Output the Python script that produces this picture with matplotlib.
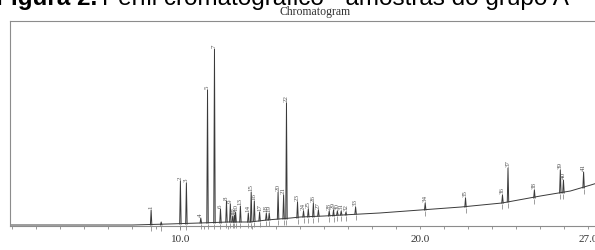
"""Chromatogram, group A samples (scanned figure redrawn)."""

import matplotlib.pyplot as plt
from matplotlib.ticker import MultipleLocator

# baseline of the trace (retention time in min, signal in arbitrary units)
baseline_t = [2.9, 8.0, 9.5, 10.8, 12.0, 12.9, 13.6, 14.6, 15.0, 16.0, 16.75,
              18.3, 20.0, 21.7, 23.4, 25.0, 26.25, 27.1, 27.5]
baseline_y = [1, 1, 2, 3, 4, 4, 6, 8, 9, 10, 11, 13, 16, 19, 23, 30, 35, 41, 44]

# peaks: label, retention time, signal at the foot, signal at the apex
peak_label = ["1", "", "2", "3", "4", "5", "7", "6", "8", "9", "11", "12", "10",
              "13", "14", "15", "16", "17", "18", "19", "20", "21", "22", "23",
              "24", "25", "26", "27", "28", "29", "30", "31", "32", "33", "34",
              "35", "36", "37", "38", "39", "40", "41"]
peak_rt = [8.78, 9.2, 10.0, 10.25, 10.85, 11.13, 11.42, 11.67, 11.92, 12.08,
           12.18, 12.25, 12.3, 12.5, 12.83, 12.95, 13.08, 13.3, 13.58, 13.7,
           14.07, 14.3, 14.42, 14.88, 15.13, 15.33, 15.54, 15.75, 16.2, 16.38,
           16.54, 16.7, 16.9, 17.3, 20.2, 21.88, 23.42, 23.65, 24.75, 25.83,
           25.96, 26.8]
peak_base = [1, 1, 2, 2, 3, 3, 3, 3, 4, 4, 4, 4, 4, 4, 4, 4, 5, 5, 6, 6, 7, 7,
             7, 8, 9, 9, 9, 10, 10, 10, 11, 11, 11, 12, 16, 19, 23, 24, 28, 33,
             33, 38]
peak_top = [16, 4, 45, 43, 8, 136, 177, 17, 25, 22, 10, 11, 14, 20, 13, 34, 25,
            14, 13, 13, 34, 31, 123, 24, 15, 17, 23, 16, 15, 16, 15, 15, 14, 19,
            23, 28, 31, 58, 36, 56, 46, 54]

xtick_vals = [10, 20, 27]
xtick_text = ["10.0", "20.0", "27.0"]

W, H = 595, 250
fig = plt.figure(figsize=(W / 100, H / 100), dpi=100)
ax = fig.add_axes([10 / W, 1 - 226 / H, 590.4 / W, 205 / H])

trace = "#3a3a3a"
ax.plot(baseline_t, baseline_y, color=trace, lw=0.7)

hw = 0.03  # half width of a peak, min
for lab, rt, b, top in zip(peak_label, peak_rt, peak_base, peak_top):
    ax.plot([rt - hw, rt, rt + hw], [b, top, b], color=trace, lw=0.7)
    # integration marks under each peak
    ax.vlines(rt, b - 6, b - 1, color="#777777", lw=0.5, clip_on=False)
    if lab:
        ax.text(rt, top + 1, lab, rotation=90, ha="center", va="bottom",
                fontsize=5, color="#555555", family="Liberation Serif")

ax.set_xlim(2.9, 27.5)
ax.set_ylim(0, 205)
ax.set_yticks([])
ax.set_xticks(xtick_vals)
ax.set_xticklabels(xtick_text)
ax.xaxis.set_minor_locator(MultipleLocator(1))
ax.tick_params(axis="x", which="both", direction="out", length=2.2,
               width=0.6, color="#888888", pad=4.3, labelsize=8,
               labelcolor="#333333")
for lbl in ax.get_xticklabels():
    lbl.set_family("Liberation Serif")
for side in ["top", "left", "bottom", "right"]:
    ax.spines[side].set_color("#8c8c8c")
    ax.spines[side].set_linewidth(0.8)

fig.text(315 / W, 1 - 15 / H, "Chromatogram", ha="center", va="baseline",
         fontsize=8.5, color="#333333", family="Liberation Serif")

# caption, clipped at the top edge like the source scan
cap_y = 1 - 4.5 / H
t1 = fig.text(-4 / W, cap_y, "Figura 2.", ha="left", va="baseline",
              fontsize=17.5, fontweight="bold", family="Liberation Sans")
fig.canvas.draw()
bb = t1.get_window_extent(fig.canvas.get_renderer())
fig.text(bb.x1 / W + 5 / W, cap_y, "Perfil cromatográfico - amostras do grupo A",
         ha="left", va="baseline", fontsize=17.5, family="Liberation Sans")

fig.savefig("out.png", dpi=100)
